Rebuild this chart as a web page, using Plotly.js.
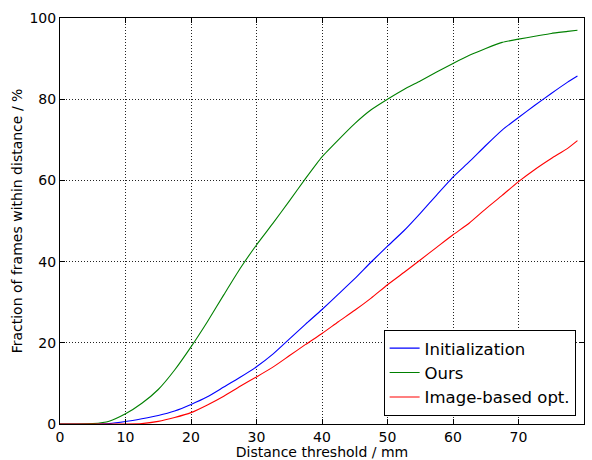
<!DOCTYPE html>
<html>
<head>
<meta charset="utf-8">
<script src="https://cdn.plot.ly/plotly-3.0.1.min.js"></script>
<style>html,body{margin:0;padding:0;background:#fff;}#chart{width:592px;height:460px;}</style>
</head>
<body>
<div id="chart"></div>
<script>
const thresholds = [0, 2.5, 5, 7.5, 10, 12.5, 15, 17.5, 20, 22.5, 25, 27.5, 30, 32.5, 35, 37.5, 40, 42.5, 45, 47.5, 50, 52.5, 55, 57.5, 60, 62.5, 65, 67.5, 70, 72.5, 75, 77.5, 79];
const initialization = [0, 0, 0, 0.1, 0.6, 1.3, 2.1, 3.2, 4.8, 6.7, 9.1, 11.5, 14.1, 17.2, 20.9, 24.6, 28.2, 32.0, 35.8, 39.9, 43.8, 47.6, 51.9, 56.4, 60.8, 64.6, 68.6, 72.4, 75.5, 78.5, 81.4, 84.2, 85.7];
const ours = [0, 0, 0.1, 0.7, 2.5, 5.1, 8.5, 13.3, 19.0, 25.2, 31.8, 38.3, 44.1, 49.4, 54.9, 60.5, 65.8, 70.0, 74.0, 77.4, 80.0, 82.4, 84.5, 86.7, 88.8, 90.8, 92.5, 94.0, 94.8, 95.5, 96.2, 96.7, 97.0];
const imageBased = [0, 0, 0, 0, 0, 0.1, 0.65, 1.6, 2.8, 4.7, 6.85, 9.3, 11.6, 14.0, 16.8, 19.6, 22.3, 25.2, 28.0, 31.0, 34.3, 37.3, 40.4, 43.5, 46.6, 49.5, 53.0, 56.3, 59.7, 62.7, 65.4, 67.9, 69.8];
const seriesNames = ["Initialization", "Ours", "Image-based opt."];
const seriesColors = ["#0000ff", "#008000", "#ff0000"];
const xTicks = [0, 10, 20, 30, 40, 50, 60, 70, 80];
const yTicks = [0, 20, 40, 60, 80, 100];

const seriesData = [initialization, ours, imageBased];
const traces = seriesData.map((ys, i) => ({
  x: thresholds, y: ys, type: "scatter", mode: "lines",
  name: seriesNames[i], line: {color: seriesColors[i], width: 1.1, shape: "spline", smoothing: 0.5}
}));

const axisCommon = {
  showline: true, linecolor: "#000", linewidth: 1, mirror: "ticks",
  ticks: "inside", ticklen: 5, tickwidth: 1, tickcolor: "#000",
  showgrid: true, gridcolor: "#222", gridwidth: 1, griddash: "1px,2px",
  zeroline: false, tickfont: {family: "DejaVu Sans", size: 14, color: "#000"}
};

const layout = {
  width: 592, height: 460,
  margin: {l: 60, r: 8, t: 18, b: 36},
  paper_bgcolor: "#fff", plot_bgcolor: "#fff",
  font: {family: "DejaVu Sans", color: "#000"},
  showlegend: true,
  xaxis: Object.assign({}, axisCommon, {
    range: [0, 80], tickvals: xTicks, ticktext: xTicks.map(String),
    title: {text: "Distance threshold / mm", font: {family: "DejaVu Sans", size: 14, color: "#000"}, standoff: 8}
  }),
  yaxis: Object.assign({}, axisCommon, {
    range: [0, 100], tickvals: yTicks, ticktext: yTicks.map(String),
    title: {text: "Fraction of frames within distance / %", font: {family: "DejaVu Sans", size: 14, color: "#000"}, standoff: 3}
  }),
  legend: {
    x: 0.984, y: 0.02, xanchor: "right", yanchor: "bottom",
    bgcolor: "#fff", bordercolor: "#000", borderwidth: 1,
    font: {family: "DejaVu Sans", size: 16.5, color: "#000"}
  }
};

Plotly.newPlot("chart", traces, layout, {displayModeBar: false, staticPlot: true});
</script>
</body>
</html>
